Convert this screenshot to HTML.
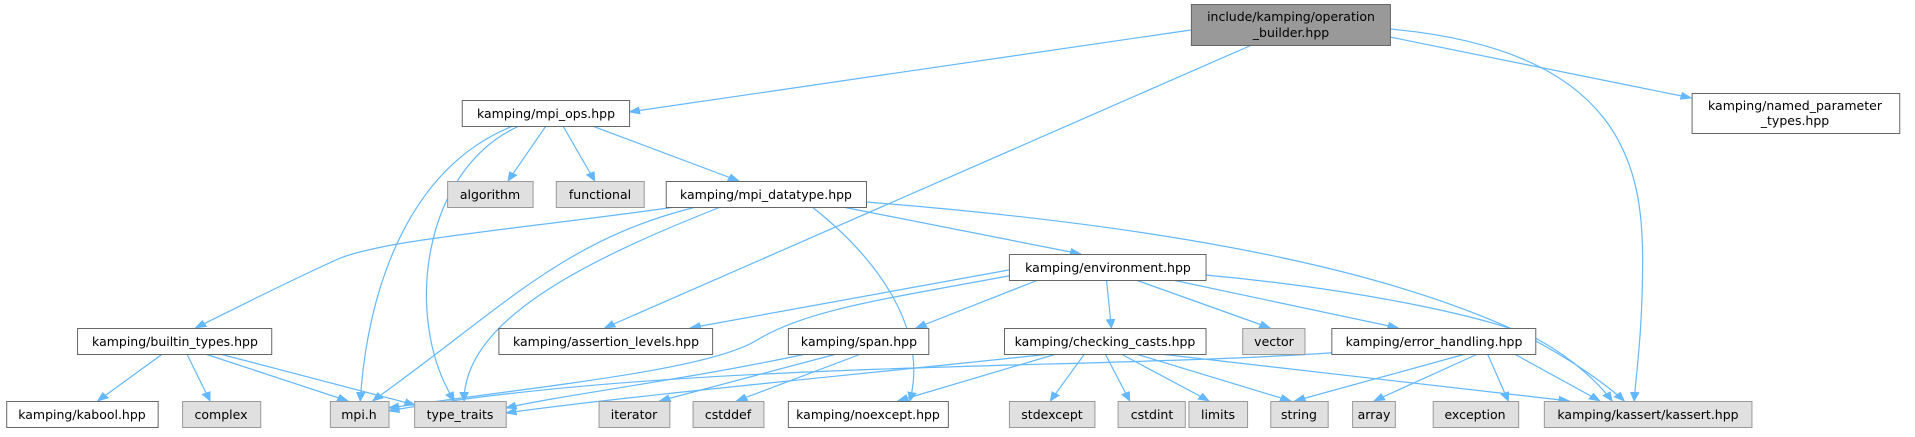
<!DOCTYPE html>
<html><head><meta charset="utf-8"><style>
html,body{margin:0;padding:0;background:#fff;}
svg text{font-family:"DejaVu Sans","Liberation Sans",sans-serif;font-size:12.5px;fill:#000;}
</style></head><body>
<svg width="1915" height="432" viewBox="0 0 1915 432" xmlns="http://www.w3.org/2000/svg">
<defs><marker id="a" markerWidth="10" markerHeight="8" refX="9" refY="4" orient="auto" markerUnits="userSpaceOnUse"><path d="M0,0 L10,4 L0,8 z" fill="#63b8ff"/></marker></defs>
<g transform="scale(1.2213,1)">
<g fill="none" stroke="#63b8ff" stroke-width="1.2" marker-end="url(#a)">
<path vector-effect="non-scaling-stroke" d="M975,30 L515,112"/>
<path vector-effect="non-scaling-stroke" d="M1025,45 L495,328"/>
<path vector-effect="non-scaling-stroke" d="M1138,37 L1385,98"/>
<path vector-effect="non-scaling-stroke" d="M1138,29 C1330,50 1345,170 1345,260 C1345,330 1340,370 1338,401"/>
<path vector-effect="non-scaling-stroke" d="M420,126 C330,170 300,300 295,401"/>
<path vector-effect="non-scaling-stroke" d="M425,126 C345,170 330,320 372,401"/>
<path vector-effect="non-scaling-stroke" d="M447,126 L416,181"/>
<path vector-effect="non-scaling-stroke" d="M461,126 L487,181"/>
<path vector-effect="non-scaling-stroke" d="M485,126 L605,181"/>
<path vector-effect="non-scaling-stroke" d="M553,207 C420,230 310,240 275,260 C230,285 190,310 160,328"/>
<path vector-effect="non-scaling-stroke" d="M570,207 C460,240 410,310 305,401"/>
<path vector-effect="non-scaling-stroke" d="M590,207 C480,260 380,320 380,401"/>
<path vector-effect="non-scaling-stroke" d="M665,207 C720,260 760,330 745,401"/>
<path vector-effect="non-scaling-stroke" d="M690,207 L885,254"/>
<path vector-effect="non-scaling-stroke" d="M709,202 C1000,230 1150,280 1240,330 C1290,360 1320,390 1330,401"/>
<path vector-effect="non-scaling-stroke" d="M826,270 L565,328"/>
<path vector-effect="non-scaling-stroke" d="M830,275 C720,300 660,310 620,340 C580,370 450,385 318,408"/>
<path vector-effect="non-scaling-stroke" d="M850,280 L750,328"/>
<path vector-effect="non-scaling-stroke" d="M906,280 L910,328"/>
<path vector-effect="non-scaling-stroke" d="M930,280 L1040,328"/>
<path vector-effect="non-scaling-stroke" d="M960,280 L1145,328"/>
<path vector-effect="non-scaling-stroke" d="M987,275 C1120,290 1230,320 1260,340 C1290,360 1310,385 1320,401"/>
<path vector-effect="non-scaling-stroke" d="M133,354 L80,401"/>
<path vector-effect="non-scaling-stroke" d="M153,354 L172,401"/>
<path vector-effect="non-scaling-stroke" d="M168,354 L285,401"/>
<path vector-effect="non-scaling-stroke" d="M180,354 L340,405"/>
<path vector-effect="non-scaling-stroke" d="M660,354 C560,380 460,395 414,408"/>
<path vector-effect="non-scaling-stroke" d="M685,354 L540,401"/>
<path vector-effect="non-scaling-stroke" d="M705,354 L603,401"/>
<path vector-effect="non-scaling-stroke" d="M860,354 C700,375 520,395 414,413"/>
<path vector-effect="non-scaling-stroke" d="M865,354 L735,401"/>
<path vector-effect="non-scaling-stroke" d="M888,354 L860,401"/>
<path vector-effect="non-scaling-stroke" d="M905,354 L925,401"/>
<path vector-effect="non-scaling-stroke" d="M918,354 L990,401"/>
<path vector-effect="non-scaling-stroke" d="M930,354 L1057,401"/>
<path vector-effect="non-scaling-stroke" d="M950,354 L1285,401"/>
<path vector-effect="non-scaling-stroke" d="M1100,352 C900,370 550,360 318,411"/>
<path vector-effect="non-scaling-stroke" d="M1200,354 L1060,401"/>
<path vector-effect="non-scaling-stroke" d="M1210,354 L1125,401"/>
<path vector-effect="non-scaling-stroke" d="M1218,354 L1235,401"/>
<path vector-effect="non-scaling-stroke" d="M1240,354 L1310,401"/>
</g>
<g stroke="#666" stroke-width="1" fill="#fff">
<rect vector-effect="non-scaling-stroke" x="975.5" y="4.5" width="163" height="41" fill="#999"/>
<rect vector-effect="non-scaling-stroke" x="378.5" y="100.5" width="137" height="26"/>
<rect vector-effect="non-scaling-stroke" x="1385.5" y="93.5" width="170" height="40"/>
<rect vector-effect="non-scaling-stroke" x="366.5" y="181.5" width="70" height="26" fill="#e0e0e0" stroke="#999"/>
<rect vector-effect="non-scaling-stroke" x="455.5" y="181.5" width="72" height="26" fill="#e0e0e0" stroke="#999"/>
<rect vector-effect="non-scaling-stroke" x="545.5" y="181.5" width="164" height="26"/>
<rect vector-effect="non-scaling-stroke" x="826.5" y="254.5" width="161" height="26"/>
<rect vector-effect="non-scaling-stroke" x="63.5" y="328.5" width="159" height="26"/>
<rect vector-effect="non-scaling-stroke" x="408.5" y="328.5" width="175" height="26"/>
<rect vector-effect="non-scaling-stroke" x="645.5" y="328.5" width="115" height="26"/>
<rect vector-effect="non-scaling-stroke" x="822.5" y="328.5" width="165" height="26"/>
<rect vector-effect="non-scaling-stroke" x="1017.5" y="328.5" width="51" height="26" fill="#e0e0e0" stroke="#999"/>
<rect vector-effect="non-scaling-stroke" x="1090.5" y="328.5" width="167" height="26"/>
<rect vector-effect="non-scaling-stroke" x="5.5" y="401.5" width="124" height="26"/>
<rect vector-effect="non-scaling-stroke" x="149.5" y="401.5" width="64" height="26" fill="#e0e0e0" stroke="#999"/>
<rect vector-effect="non-scaling-stroke" x="270.5" y="401.5" width="48" height="26" fill="#e0e0e0" stroke="#999"/>
<rect vector-effect="non-scaling-stroke" x="339.5" y="401.5" width="75" height="26" fill="#e0e0e0" stroke="#999"/>
<rect vector-effect="non-scaling-stroke" x="490.5" y="401.5" width="58" height="26" fill="#e0e0e0" stroke="#999"/>
<rect vector-effect="non-scaling-stroke" x="567.5" y="401.5" width="58" height="26" fill="#e0e0e0" stroke="#999"/>
<rect vector-effect="non-scaling-stroke" x="645.5" y="401.5" width="131" height="26"/>
<rect vector-effect="non-scaling-stroke" x="826.5" y="401.5" width="70" height="26" fill="#e0e0e0" stroke="#999"/>
<rect vector-effect="non-scaling-stroke" x="915.5" y="401.5" width="55" height="26" fill="#e0e0e0" stroke="#999"/>
<rect vector-effect="non-scaling-stroke" x="973.5" y="401.5" width="48" height="26" fill="#e0e0e0" stroke="#999"/>
<rect vector-effect="non-scaling-stroke" x="1040.5" y="401.5" width="47" height="26" fill="#e0e0e0" stroke="#999"/>
<rect vector-effect="non-scaling-stroke" x="1107.5" y="401.5" width="35" height="26" fill="#e0e0e0" stroke="#999"/>
<rect vector-effect="non-scaling-stroke" x="1173.5" y="401.5" width="70" height="26" fill="#e0e0e0" stroke="#999"/>
<rect vector-effect="non-scaling-stroke" x="1264.5" y="401.5" width="170" height="26" fill="#e0e0e0" stroke="#999"/>
</g>
</g>
<g text-anchor="middle">
<text x="1291" y="21">include/kamping/operation</text>
<text x="1291" y="37">_builder.hpp</text>
<text x="546" y="118">kamping/mpi_ops.hpp</text>
<text x="1795" y="110">kamping/named_parameter</text>
<text x="1795" y="125">_types.hpp</text>
<text x="490" y="199">algorithm</text>
<text x="600" y="199">functional</text>
<text x="766" y="199">kamping/mpi_datatype.hpp</text>
<text x="1108" y="272">kamping/environment.hpp</text>
<text x="175" y="346">kamping/builtin_types.hpp</text>
<text x="606" y="346">kamping/assertion_levels.hpp</text>
<text x="859" y="346">kamping/span.hpp</text>
<text x="1105" y="346">kamping/checking_casts.hpp</text>
<text x="1274" y="346">vector</text>
<text x="1434" y="346">kamping/error_handling.hpp</text>
<text x="82" y="419">kamping/kabool.hpp</text>
<text x="221" y="419">complex</text>
<text x="359" y="419">mpi.h</text>
<text x="460" y="419">type_traits</text>
<text x="634" y="419">iterator</text>
<text x="728" y="419">cstddef</text>
<text x="868" y="419">kamping/noexcept.hpp</text>
<text x="1052" y="419">stdexcept</text>
<text x="1152" y="419">cstdint</text>
<text x="1218" y="419">limits</text>
<text x="1299" y="419">string</text>
<text x="1374" y="419">array</text>
<text x="1475" y="419">exception</text>
<text x="1648" y="419">kamping/kassert/kassert.hpp</text>
</g>
</svg>
</body></html>
